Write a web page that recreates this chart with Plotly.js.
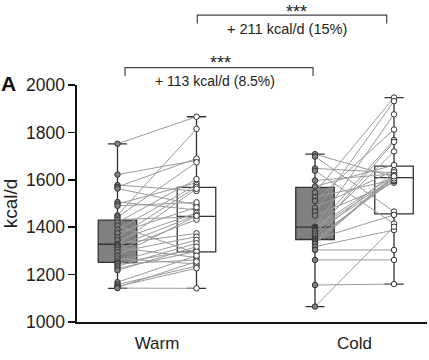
<!DOCTYPE html>
<html>
<head>
<meta charset="utf-8">
<script src="https://cdn.plot.ly/plotly-3.0.1.min.js"></script>
<style>html,body{margin:0;padding:0;background:#fff;}#chart{width:429px;height:360px;}</style>
</head>
<body>
<div id="chart"></div>
<script>
// ---- Data ----
const categories = ['Warm', 'Cold'];
const tickValues = [1000, 1200, 1400, 1600, 1800, 2000];

// Warm condition: paired subjects (before = grey box, after = white box)
const warmBefore = [1752, 1622, 1578, 1570, 1563, 1506, 1498, 1490, 1450,
                    1442, 1432, 1420, 1407, 1390, 1375, 1357, 1345, 1330,
                    1326, 1320, 1314, 1305, 1295, 1280, 1268, 1256, 1248,
                    1245, 1235, 1226, 1218, 1168, 1158, 1150, 1146, 1143];
const warmAfter  = [1866, 1682, 1553, 1690, 1494, 1473, 1588, 1505, 1815,
                    1674, 1444, 1603, 1290, 1578, 1484, 1570, 1460, 1374,
                    1562, 1451, 1272, 1432, 1360, 1448, 1245, 1346, 1306,
                    1262, 1332, 1298, 1318, 1280, 1236, 1227, 1255, 1142];

// Cold condition
const coldBefore = [1708, 1698, 1648, 1638, 1597, 1572, 1546, 1526, 1511, 1482,
                    1466, 1449, 1402, 1398, 1396, 1392, 1388, 1384, 1374, 1364,
                    1353, 1348, 1342, 1336, 1330, 1318, 1304, 1262, 1156, 1065];
const coldAfter  = [1612, 1466, 1630, 1415, 1625, 1662, 1947, 1600, 1812, 1640,
                    1932, 1588, 1876, 1618, 1768, 1605, 1720, 1594, 1760, 1632,
                    1598, 1452, 1606, 1620, 1615, 1388, 1304, 1262, 1160, 1402];

// Box summaries: [warm grey, warm white, cold grey, cold white]
const boxLower  = [1142, 1142, 1065, 1160];
const boxQ1     = [1252, 1296, 1348, 1456];
const boxMedian = [1328, 1446, 1400, 1609];
const boxQ3     = [1430, 1568, 1568, 1658];
const boxUpper  = [1752, 1866, 1708, 1947];

// Comparison labels
const compStars = ['***', '***'];
const compTexts = ['+ 113 kcal/d (8.5%)', '+ 211 kcal/d (15%)'];

// ---- Layout helpers ----
const FONT = 'Liberation Sans, Arial, Helvetica, sans-serif';
const OFF = 0.2;
const pos = [1 - OFF, 1 + OFF, 2 - OFF, 2 + OFF];
const fills = ['#808080', '#ffffff', '#808080', '#ffffff'];

const traces = [];
for (let i = 0; i < 4; i++) {
  traces.push({
    type: 'box',
    x: [pos[i]],
    q1: [boxQ1[i]], median: [boxMedian[i]], q3: [boxQ3[i]],
    lowerfence: [boxLower[i]], upperfence: [boxUpper[i]],
    width: 0.195,
    whiskerwidth: 0.5,
    boxpoints: false,
    fillcolor: fills[i],
    line: {color: '#333333', width: 1.3},
    hoverinfo: 'skip',
    showlegend: false
  });
}

function pairLines(before, after, x0, x1) {
  const xs = [], ys = [];
  for (let i = 0; i < before.length; i++) {
    xs.push(x0, x1, null);
    ys.push(before[i], after[i], null);
  }
  return {type: 'scatter', mode: 'lines', x: xs, y: ys,
          line: {color: '#9a9a9a', width: 1}, hoverinfo: 'skip', showlegend: false};
}
traces.push(pairLines(warmBefore, warmAfter, pos[0], pos[1]));
traces.push(pairLines(coldBefore, coldAfter, pos[2], pos[3]));

function pts(vals, x, fill) {
  return {type: 'scatter', mode: 'markers', x: vals.map(() => x), y: vals,
          marker: {size: 5.5, color: fill, line: {color: '#333333', width: 1}},
          hoverinfo: 'skip', showlegend: false, cliponaxis: false};
}
traces.push(pts(warmBefore, pos[0], '#808080'));
traces.push(pts(warmAfter, pos[1], '#ffffff'));
traces.push(pts(coldBefore, pos[2], '#808080'));
traces.push(pts(coldAfter, pos[3], '#ffffff'));

const lineCol = '#444444';
function bracket(xa, xb, yTop, yEnd) {
  return {type: 'path', xref: 'x', yref: 'paper',
          path: `M ${xa} ${yEnd} L ${xa} ${yTop} L ${xb} ${yTop} L ${xb} ${yEnd}`,
          line: {color: lineCol, width: 1.2}};
}

const layout = {
  width: 429, height: 360,
  margin: {l: 77, r: 2, t: 85, b: 38},
  paper_bgcolor: '#ffffff', plot_bgcolor: '#ffffff',
  font: {family: FONT, color: '#222222', size: 17},
  showlegend: false,
  xaxis: {
    range: [0.595, 2.367], tickvals: [1, 2], ticktext: categories,
    showline: true, linecolor: '#111111', linewidth: 1.6,
    ticks: '', showgrid: false, zeroline: false, ticklabelstandoff: 5,
    tickfont: {size: 17, family: FONT, color: '#222222'}, fixedrange: true
  },
  yaxis: {
    range: [1000, 2000], tickvals: tickValues,
    showline: true, linecolor: '#111111', linewidth: 1.6,
    ticks: 'outside', ticklen: 7, tickwidth: 1.6, tickcolor: '#111111',
    showgrid: false, zeroline: false,
    tickfont: {size: 17.5, family: FONT, color: '#222222'},
    title: {text: 'kcal/d', font: {size: 19, family: FONT, color: '#222222'}, standoff: 6},
    fixedrange: true
  },
  shapes: [
    bracket(0.838, 1.79, 1.073, 1.038),
    bracket(1.204, 2.163, 1.295, 1.26)
  ],
  annotations: [
    {xref: 'x', yref: 'paper', x: 1.32, y: 1.145, text: compStars[0], showarrow: false,
     font: {size: 18, family: FONT, color: '#222222'}, yanchor: 'top'},
    {xref: 'x', yref: 'paper', x: 1.294, y: 1.017, text: compTexts[0], showarrow: false,
     font: {size: 14, family: FONT, color: '#222222'}, yanchor: 'middle'},
    {xref: 'x', yref: 'paper', x: 1.704, y: 1.36, text: compStars[1], showarrow: false,
     font: {size: 18, family: FONT, color: '#222222'}, yanchor: 'top'},
    {xref: 'x', yref: 'paper', x: 1.658, y: 1.235, text: compTexts[1], showarrow: false,
     font: {size: 14.5, family: FONT, color: '#222222'}, yanchor: 'middle'},
    {xref: 'paper', yref: 'paper', x: -0.222, y: 1.005, text: '<b>A</b>', showarrow: false,
     xanchor: 'left', yanchor: 'middle', font: {size: 21, family: FONT, color: '#111111'}}
  ]
};

Plotly.newPlot('chart', traces, layout, {displayModeBar: false, staticPlot: true});
</script>
</body>
</html>
